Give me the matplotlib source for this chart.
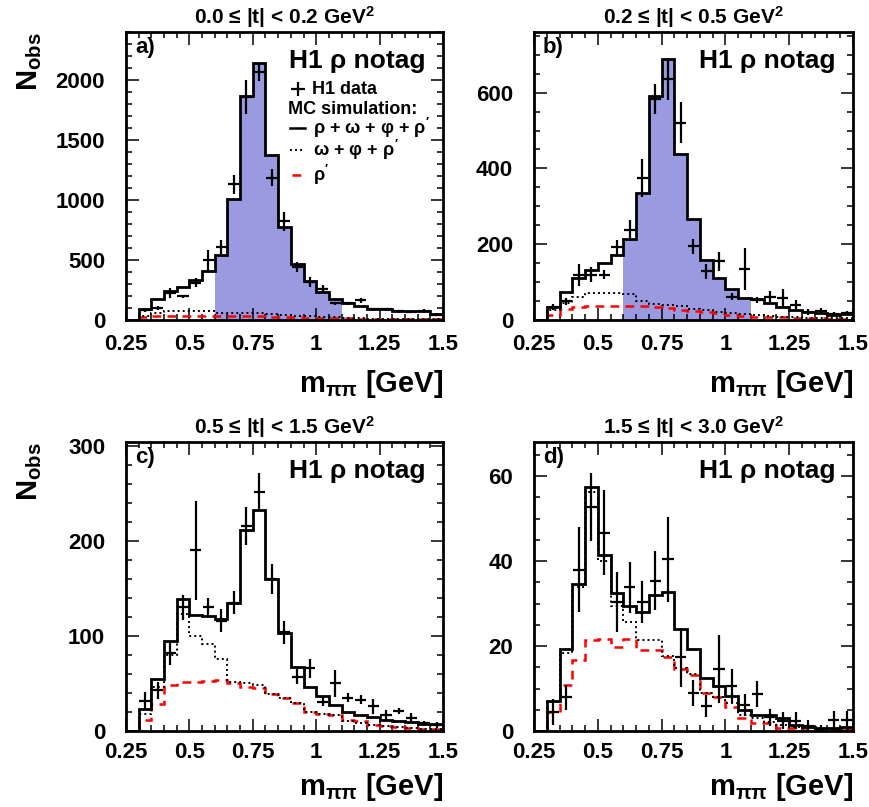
import numpy as np
import matplotlib
matplotlib.use("Agg")
import matplotlib.pyplot as plt
from matplotlib.ticker import MultipleLocator, FixedLocator, FixedFormatter

plt.rcParams['font.family'] = ['Liberation Sans', 'DejaVu Sans']
plt.rcParams['font.weight'] = 'bold'
plt.rcParams['mathtext.fontset'] = 'custom'
plt.rcParams['mathtext.rm'] = 'Liberation Sans:bold'
plt.rcParams['mathtext.bf'] = 'Liberation Sans:bold'
plt.rcParams['mathtext.sf'] = 'Liberation Sans:bold'
plt.rcParams['mathtext.it'] = 'Liberation Sans'

# ---------------- data ----------------
# bin edges of m_pipi [GeV]; first bin (0.25-0.30) is empty
m_edges = np.round(np.arange(0.25, 1.5001, 0.05), 2)
m_centers = np.round((m_edges[1:-1] + m_edges[2:]) / 2, 3)   # data bins 0.30-1.50

t_titles = ["0.0 ≤ |t| < 0.2 GeV$^{2}$", "0.2 ≤ |t| < 0.5 GeV$^{2}$",
            "0.5 ≤ |t| < 1.5 GeV$^{2}$", "1.5 ≤ |t| < 3.0 GeV$^{2}$"]
panel_tags = ["a)", "b)", "c)", "d)"]

# panel a
a_total = [0, 88, 179, 242, 275, 331, 408, 540, 1005, 1865, 2140, 1372, 771, 465,
           325, 234, 174, 138, 116, 94, 88, 77, 74, 72, 50]
a_bkg = [0, 33, 60, 75, 77, 77, 75, 62, 60, 58, 55, 50, 45, 35, 30, 25, 22, 18, 15,
         12, 10, 8, 7, 6, 5]
a_rhop = [0, 28, 35, 36, 36, 36, 36, 35, 33, 32, 30, 28, 25, 22, 20, 18, 15, 13, 11,
          10, 9, 8, 7, 6, 5]
a_data = [85, 102, 226, 198, 311, 496, 606, 1130, 1860, 2066, 1185, 821, 441, 317,
          262, 138, 138, 165, 88, 88, 74, 69, 77, 45]
a_err = [15, 15, 40, 14, 35, 85, 60, 80, 140, 75, 70, 80, 40, 40, 30, 15, 15, 20,
         12, 12, 12, 12, 15, 10]

# panel b
b_total = [0, 34, 74, 110, 132, 150, 172, 214, 335, 592, 689, 437, 267, 159, 110, 81,
           59, 55, 44, 34, 26, 22, 18, 13, 16]
b_bkg = [0, 26, 45, 62, 70, 71, 71, 68, 50, 42, 40, 36, 30, 26, 22, 19, 16, 12, 10, 8,
         7, 6, 5, 4, 4]
b_rhop = [0, 13, 30, 35, 37, 37, 37, 37, 36, 34, 31, 27, 24, 21, 18, 14, 11, 9, 8, 7,
          6, 5, 4, 3, 3]
b_data = [35, 49, 119, 119, 119, 192, 238, 375, 583, 636, 521, 194, 128, 155, 62, 134,
          53, 62, 57, 40, 22, 24, 16, 19]
b_err = [8, 10, 30, 20, 12, 20, 25, 50, 40, 55, 55, 20, 20, 25, 10, 55, 8, 15, 25, 12,
         8, 8, 6, 6]

# panel c
c_total = [0, 23, 55, 95, 139, 122, 121, 118, 135, 211, 232, 160, 103, 67, 46, 37, 27,
           20, 17, 15, 12, 11, 9, 7, 7]
c_bkg = [0, 18, 46, 80, 123, 100, 92, 76, 52, 50, 48, 39, 35, 29, 20, 18, 17, 10, 8,
         6, 5, 4, 3, 2, 2]
c_rhop = [0, 12, 28, 48, 52, 52, 53, 54, 51, 46, 45, 39, 35, 29, 20, 18, 17, 12, 10,
          6, 5, 4, 3, 2, 2]
c_data = [32, 43, 82, 130, 190, 130, 116, 135, 216, 251, 160, 104, 57, 66, 31, 50, 35,
          33, 26, 17, 21, 14, 8, 6]
c_err = [9, 9, 13, 13, 52, 10, 12, 12, 20, 20, 16, 12, 8, 10, 5, 14, 5, 5, 8, 5, 3, 5,
         3, 3]

# panel d
d_total = [0, 7.1, 19.2, 34.7, 57.5, 41.4, 32.4, 29.4, 28.1, 32.0, 32.8, 24.1, 19.4,
           12.4, 10.6, 8.2, 4.9, 3.8, 3.8, 3.0, 1.4, 1.0, 0.6, 0.6, 1.0]
d_bkg = [0, 6.9, 18.3, 34.0, 56.3, 40.0, 29.4, 25.7, 21.4, 21.4, 17.6, 14.9, 13.4, 9.0,
         8.1, 6.5, 3.8, 3.0, 2.2, 1.4, 1.0, 0.6, 0.4, 0.4, 0.4]
d_rhop = [0, 4.5, 10.8, 16.7, 21.4, 21.6, 19.7, 21.6, 19.0, 19.0, 17.5, 14.7, 13.2, 9.0,
          8.1, 5.7, 3.0, 1.8, 1.8, 0.6, 0.6, 0.3, 0.3, 0.3, 0.4]
d_data = [4.5, 7.9, 38, 52.8, 46.6, 30.4, 33.8, 30.4, 35.4, 40.4, 17.3, 9.0, 5.9, 14.7,
          10.6, 6.1, 8.7, 3.2, 2.4, 2.4, 1.2, 0.5, 2.7, 2.7]
d_err = [3, 3, 10, 8, 10, 7, 6, 5, 7, 10, 7, 3, 2.5, 8, 4, 2.5, 3, 2, 2, 2, 1.5, 1, 2, 2]

# rho signal region shown shaded in panels a and b
rho_window = (0.6, 1.1)

x_ticks = [0.25, 0.5, 0.75, 1.0, 1.25, 1.5]
x_ticklabels = ["0.25", "0.5", "0.75", "1", "1.25", "1.5"]

panels = [
    dict(total=a_total, bkg=a_bkg, rhop=a_rhop, data=a_data, err=a_err,
         ymax=2400, ymajor=500, yminor=100, shade=True),
    dict(total=b_total, bkg=b_bkg, rhop=b_rhop, data=b_data, err=b_err,
         ymax=760, ymajor=200, yminor=50, shade=True),
    dict(total=c_total, bkg=c_bkg, rhop=c_rhop, data=c_data, err=c_err,
         ymax=304, ymajor=100, yminor=20, shade=False),
    dict(total=d_total, bkg=d_bkg, rhop=d_rhop, data=d_data, err=d_err,
         ymax=68, ymajor=20, yminor=5, shade=False),
]

# ---------------- figure ----------------
W, H = 870, 807
fig = plt.figure(figsize=(W / 100, H / 100), dpi=100)

boxes = [(126, 32, 443, 320), (534, 32, 853, 320),
         (126, 442, 443, 731), (534, 442, 853, 731)]

fill_color = "#9a9ae0"

for i, (p, (x0, y0, x1, y1)) in enumerate(zip(panels, boxes)):
    ax = fig.add_axes([x0 / W, 1 - y1 / H, (x1 - x0) / W, (y1 - y0) / H])
    edges = m_edges
    total = np.array(p["total"], float)

    if p["shade"]:
        centers_all = (edges[:-1] + edges[1:]) / 2
        mask = (centers_all > rho_window[0]) & (centers_all < rho_window[1])
        idx = np.where(mask)[0]
        ax.stairs(total[idx], edges[idx[0]:idx[-1] + 2], fill=True,
                  color=fill_color, linewidth=0, zorder=1)

    ax.stairs(p["rhop"], edges, color="red", linestyle=(0, (3.5, 2.5)),
              linewidth=1.8, baseline=None, zorder=2)
    ax.stairs(p["bkg"], edges, color="black", linestyle=(0, (1, 1.6)),
              linewidth=1.4, baseline=None, zorder=3)
    ax.stairs(total, edges, color="black", linewidth=2.0, baseline=None, zorder=4)

    ax.errorbar(m_centers, p["data"], xerr=0.022, yerr=p["err"], fmt="none",
                ecolor="black", elinewidth=1.6, capsize=0, zorder=5)

    ax.set_xlim(0.25, 1.5)
    ax.set_ylim(0, p["ymax"])
    ax.xaxis.set_major_locator(FixedLocator(x_ticks))
    ax.xaxis.set_major_formatter(FixedFormatter(x_ticklabels))
    ax.xaxis.set_minor_locator(MultipleLocator(0.05))
    ax.yaxis.set_major_locator(MultipleLocator(p["ymajor"]))
    ax.yaxis.set_minor_locator(MultipleLocator(p["yminor"]))
    xpad = 10 if i < 2 else 8
    ax.tick_params(axis="both", which="both", direction="in", top=True, right=True,
                   labelsize=16, width=1.1)
    ax.tick_params(axis="both", which="major", length=9)
    ax.tick_params(axis="both", which="minor", length=4.5)
    ax.tick_params(axis="x", which="major", pad=xpad)
    ax.tick_params(axis="y", which="major", pad=15)
    for lab in ax.get_xticklabels() + ax.get_yticklabels():
        lab.set_fontweight("bold")
    for s in ax.spines.values():
        s.set_linewidth(2.0)

    ax.set_title(t_titles[i], fontsize=15, fontweight="bold", pad=6)
    ax.text(0.028, 0.926, panel_tags[i], transform=ax.transAxes, fontsize=16,
            fontweight="bold", va="baseline", ha="left")
    ax.text(0.945, 0.874, "H1 ρ notag", transform=ax.transAxes, fontsize=19,
            fontweight="bold", va="baseline", ha="right")

    xl_y = -0.25 if i < 2 else -0.222
    ax.text(1.0, xl_y, r"m$_{\pi\pi}$ [GeV]", transform=ax.transAxes, fontsize=21,
            fontweight="bold", ha="right", va="baseline")

    if i % 2 == 0:
        fig.text(30 / W, 1 - (y0) / H, r"N$_{\mathrm{obs}}$", rotation=90,
                 fontsize=21, fontweight="bold", ha="center", va="top")

    if i == 0:
        tr = ax.transAxes
        fx = lambda X: (X - x0) / (x1 - x0)
        fy = lambda Y: (y1 - Y) / (y1 - y0)
        ax.errorbar([fx(298)], [fy(89)], xerr=0.022, yerr=0.024, fmt="none",
                    ecolor="black", elinewidth=1.6, transform=tr, zorder=6)
        ax.text(fx(312), fy(89), "H1 data", transform=tr, fontsize=13,
                fontweight="bold", va="center", ha="left")
        ax.text(fx(288), fy(109), "MC simulation:", transform=tr, fontsize=13,
                fontweight="bold", va="center", ha="left")
        ax.plot([fx(290), fx(305)], [fy(128), fy(128)], color="black", lw=1.8,
                transform=tr)
        ax.text(fx(313), fy(128), r"$\rho$ + $\omega$ + $\varphi$ + $\rho'$",
                transform=tr, fontsize=13, fontweight="bold", va="center", ha="left")
        ax.plot([fx(290), fx(305)], [fy(150), fy(150)], color="black", lw=1.4,
                linestyle=(0, (1, 1.6)), transform=tr)
        ax.text(fx(313), fy(150), r"$\omega$ + $\varphi$ + $\rho'$", transform=tr,
                fontsize=13, fontweight="bold", va="center", ha="left")
        ax.plot([fx(292), fx(306)], [fy(175), fy(175)], color="red", lw=1.8,
                linestyle=(0, (3.5, 2.5)), transform=tr)
        ax.text(fx(313), fy(175), r"$\rho'$", transform=tr, fontsize=13,
                fontweight="bold", va="center", ha="left")

fig.savefig("out.png", dpi=100)
